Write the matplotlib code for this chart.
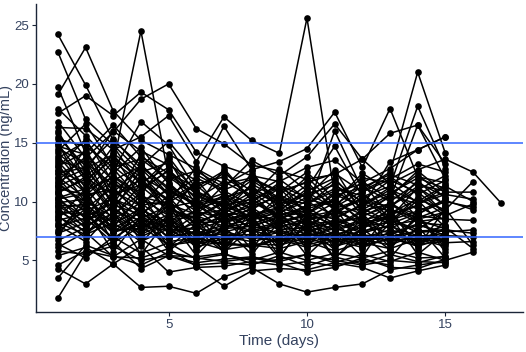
import matplotlib
matplotlib.use("Agg")
import matplotlib.pyplot as plt

# concentration (ng/mL) per subject, one value per day starting at day 1
conc = [
    [24.2, 19.9, 15.2, 13.1, 11.0, 9.8, 10.4, 8.9, 9.5, 8.7, 9.2, 8.1, 8.8],
    [22.7, 17.0, 14.8, 12.5, 13.3, 10.9, 9.7, 10.2, 8.8, 9.6, 10.1, 8.4, 9.0, 10.2, 9.3, 11.7],
    [19.7, 14.1, 16.5, 13.8, 12.4, 11.2, 12.6, 10.1, 11.4, 10.3, 11.8, 9.9, 10.7, 12.0, 11.1],
    [19.1, 23.1, 17.7, 15.2, 14.0, 12.8, 11.5, 12.0, 10.9, 11.6, 12.4, 10.8, 11.9, 13.2, 12.5],
    [17.9, 15.6, 13.2, 24.5, 12.1, 10.4, 9.8, 11.3, 9.6, 10.8, 9.4, 10.2],
    [17.5, 19.0, 17.3, 19.3, 17.8, 14.2, 13.0, 12.2, 11.7, 12.9, 13.5, 11.6, 12.8, 14.4, 15.5],
    [16.8, 13.7, 15.9, 18.7, 20.0, 16.2, 14.9, 13.1, 12.6, 11.9, 12.3, 13.6, 11.5, 12.7, 13.6, 12.5, 9.9],
    [16.3, 16.2, 14.4, 15.5, 17.3, 13.4, 17.2, 15.2, 14.1, 25.6, 10.5, 11.2, 12.3, 11.4, 10.9],
    [15.8, 12.6, 16.0, 14.3, 13.1, 11.8, 16.4, 12.7, 13.4, 14.5, 17.6, 12.9, 17.9, 12.1, 11.6],
    [15.3, 14.7, 12.9, 13.6, 11.9, 12.6, 11.2, 13.5, 12.2, 13.8, 16.6, 13.6, 15.8, 16.5, 13.2],
    [14.9, 11.8, 13.6, 12.1, 10.8, 9.9, 10.7, 9.4, 10.6, 9.3, 16.0, 11.0, 12.5, 21.0, 14.1],
    [14.5, 13.3, 11.4, 10.9, 12.7, 10.6, 9.5, 10.8, 9.2, 11.1, 14.7, 10.4, 11.3, 18.1, 12.8],
    [14.1, 12.2, 13.9, 11.7, 10.2, 11.5, 12.1, 10.5, 11.9, 10.2, 9.6, 11.7, 10.2, 16.5, 11.9],
    [13.7, 15.1, 12.4, 14.6, 11.5, 9.4, 10.1, 11.8, 10.3, 9.8, 10.9, 9.5, 13.4, 14.4, 15.5],
    [13.4, 10.9, 12.1, 10.4, 9.8, 8.9, 9.3, 10.0, 8.7, 9.1, 8.5, 9.8, 9.2, 8.7],
    [13.0, 14.2, 10.8, 12.9, 11.2, 10.1, 8.8, 9.6, 10.4, 8.6, 9.9, 8.9, 10.5, 9.8, 10.6, 10.2],
    [12.7, 11.5, 14.7, 11.3, 9.4, 8.6, 9.9, 8.4, 9.1, 10.0, 8.8, 10.7, 8.6, 11.2, 9.7],
    [12.4, 12.9, 9.8, 13.2, 10.6, 9.2, 8.5, 9.0, 8.3, 8.9, 10.3, 8.2, 9.7, 8.9, 10.2],
    [12.1, 10.3, 11.7, 9.6, 12.2, 10.8, 9.6, 8.7, 9.9, 8.4, 9.0, 9.4, 8.3, 10.4, 8.8, 9.8],
    [11.8, 13.8, 10.5, 11.9, 9.1, 8.3, 9.0, 10.6, 8.5, 9.5, 8.1, 8.7, 9.9, 8.5, 9.1],
    [11.6, 9.7, 12.8, 10.1, 10.9, 9.7, 8.2, 8.8, 9.4, 7.9, 9.3, 8.0, 8.9, 9.6, 8.4],
    [11.3, 12.4, 9.3, 12.7, 8.7, 9.0, 10.6, 8.1, 8.9, 9.2, 7.8, 9.1, 8.1, 9.0, 10.0, 9.5],
    [11.1, 10.6, 11.0, 9.0, 10.4, 7.9, 8.7, 9.3, 7.8, 8.6, 8.7, 7.6, 9.4, 8.2, 8.0],
    [10.8, 11.9, 8.9, 10.7, 8.4, 8.8, 7.9, 8.5, 9.1, 8.1, 8.3, 8.6, 7.7, 8.8, 8.5, 8.4],
    [10.6, 9.2, 10.3, 8.6, 9.6, 8.1, 9.2, 7.7, 8.2, 8.8, 7.5, 8.3, 8.5, 7.6, 9.2],
    [10.3, 11.1, 8.5, 9.9, 8.0, 7.6, 8.4, 8.9, 7.6, 7.8, 8.2, 7.3, 8.0, 8.4, 7.7],
    [10.1, 8.7, 9.9, 8.2, 9.3, 8.5, 7.4, 8.0, 8.6, 7.5, 7.9],
    [9.9, 10.2, 8.1, 9.4, 7.7, 7.3, 8.0, 7.4, 7.9, 8.3, 7.2, 7.8, 8.7, 7.3, 7.9],
    [9.6, 8.3, 9.5, 7.8, 8.9, 7.0, 7.7, 7.9, 7.3, 7.1, 7.7, 7.1, 7.2, 8.0, 7.4, 7.6],
    [9.4, 9.8, 7.7, 9.1, 7.4, 7.8, 7.1, 7.2, 7.0, 7.6, 6.9, 7.5, 7.9, 7.1, 7.0],
    [9.2, 7.9, 9.0, 7.4, 8.5, 6.8, 7.3, 6.9, 7.6, 6.8, 7.4, 6.8, 7.0, 7.5, 7.6, 7.3],
    [8.9, 9.4, 7.3, 8.7, 7.0, 7.4, 6.7, 7.0, 6.6, 7.3, 6.6, 7.2, 6.7, 6.9, 6.8],
    [8.7, 7.5, 8.6, 7.0, 8.1, 6.5, 7.0, 6.6, 7.1, 6.5, 7.1, 6.4, 7.4, 6.6, 7.2],
    [8.4, 9.0, 6.9, 8.3, 6.6, 6.9, 6.3, 6.4, 6.3, 6.9, 6.2, 6.8, 6.3, 7.2, 6.5, 6.6],
    [8.2, 7.2, 8.2, 6.6, 7.7, 6.2, 6.6, 6.1, 6.8, 6.1, 6.7, 6.1, 6.9, 6.2, 6.9],
    [7.9, 8.6, 6.5, 7.9, 6.3, 6.6, 5.9, 6.3, 6.0, 6.6, 5.8, 6.5, 6.0, 6.8, 6.2],
    [7.6, 9.8, 7.8, 10.6, 7.3, 8.9, 6.2, 8.4, 6.4, 8.7, 6.3, 9.0, 6.5, 8.6, 6.4],
    [7.3, 8.2, 10.4, 7.5, 9.7, 6.2, 8.8, 5.9, 9.1, 6.2, 8.3, 6.1, 9.2, 6.3, 7.8, 6.0],
    [7.0, 10.5, 7.4, 9.2, 6.9, 8.5, 5.8, 9.4, 6.1, 7.9, 5.9, 8.6, 6.1, 8.9, 6.0],
    [6.7, 7.8, 9.6, 7.1, 10.3, 5.9, 7.7, 8.9, 5.3, 8.2, 5.1, 7.8, 9.4, 6.0, 8.4],
    [6.4, 5.2, 7.0, 5.6, 6.5, 5.1, 5.5, 5.0, 5.7, 5.0, 5.6, 5.2, 5.8, 5.2, 5.3],
    [6.1, 7.4, 5.3, 6.8, 5.4, 4.8, 5.1, 5.3, 4.9, 5.5, 4.8, 5.5, 4.9, 5.7, 5.0, 5.7],
    [5.8, 5.5, 6.6, 4.3, 5.4, 4.6, 4.8, 4.6, 5.4, 4.5, 5.3, 4.7, 5.5, 4.9, 4.8],
    [5.4, 6.1, 4.7, 6.2, 4.0, 4.4, 4.5, 4.9, 4.6, 4.9, 4.5, 5.0, 4.6],
    [4.6, 5.8, 5.3, 5.2, 6.0, 4.5, 2.8, 4.1, 4.3, 4.2, 4.8, 4.4, 3.5, 4.1, 4.6],
    [4.3, 3.0, 4.7, 2.7, 2.8, 2.2, 3.6, 4.4, 3.0, 2.3, 2.7, 3.0, 4.2, 4.6, 4.9],
    [3.5, 6.3, 5.4, 4.6, 5.7, 5.2, 4.9, 5.2, 4.8, 4.0, 4.4, 5.2, 4.4, 4.3, 5.1],
    [1.8, 5.6, 6.2, 5.0, 5.4, 5.3, 5.6, 4.7, 5.1, 5.5, 5.0, 4.6, 5.0, 4.8, 5.4],
    [16.0, 12.0, 10.6, 11.4, 13.6, 9.6, 10.3, 11.1, 10.0, 12.1, 9.7, 11.3, 10.0, 11.6, 10.4],
    [15.5, 13.0, 15.3, 12.8, 10.5, 12.0, 10.9, 9.7, 11.1, 9.0, 10.6, 9.6, 11.0, 10.0, 11.4],
    [15.0, 10.5, 12.6, 16.8, 14.8, 11.0, 12.4, 10.9, 9.8, 10.6, 11.4, 10.0, 9.6, 11.0, 12.2],
    [14.7, 14.0, 11.8, 13.0, 15.1, 12.3, 11.0, 11.9, 10.8, 12.5, 10.2, 12.0, 11.6, 9.9, 10.8, 10.8],
    [14.3, 16.6, 13.0, 11.1, 12.6, 10.2, 11.7, 10.4, 12.8, 10.9, 12.0, 9.3, 10.6, 12.3, 10.3],
    [13.9, 11.2, 14.1, 12.3, 9.9, 11.4, 9.4, 12.4, 9.7, 11.4, 9.5, 10.9, 12.1, 10.6, 11.8],
    [13.5, 12.7, 10.0, 14.0, 11.6, 9.5, 12.8, 10.1, 11.2, 9.9, 11.1, 10.5, 9.4, 11.8, 9.6],
    [13.2, 9.9, 12.2, 10.6, 13.8, 10.7, 9.1, 11.5, 10.2, 9.4, 10.0, 12.4, 10.9, 9.3],
    [12.9, 15.3, 11.6, 9.7, 10.0, 12.9, 10.5, 9.3, 10.7, 11.7, 9.2, 10.1, 11.8, 10.8, 9.0],
    [12.6, 10.8, 13.4, 11.6, 12.9, 9.1, 11.4, 12.7, 9.0, 10.4, 12.7, 9.0, 10.4, 12.6, 10.7],
    [12.3, 13.5, 9.6, 12.0, 9.5, 10.0, 8.6, 9.9, 11.6, 8.9, 10.8, 11.5, 8.9, 9.7, 11.3, 10.0],
    [12.0, 9.4, 11.2, 8.8, 11.3, 8.7, 10.0, 8.6, 9.3, 10.7, 8.6, 9.7, 11.2, 8.6, 9.5],
    [11.7, 12.8, 14.0, 10.3, 8.8, 11.9, 9.0, 10.3, 8.4, 9.7, 11.6, 8.8, 9.6, 11.3, 8.9],
    [11.4, 10.0, 8.7, 11.5, 10.1, 8.0, 9.4, 8.3, 10.5, 8.0, 9.1, 10.3, 8.4, 9.2, 10.1, 9.3],
    [11.2, 14.5, 10.2, 9.3, 8.2, 9.9, 8.1, 9.5, 8.0, 9.0, 8.0, 9.2, 9.8, 8.3, 8.6],
    [10.9, 8.5, 11.9, 10.0, 9.7, 7.7, 8.9, 7.8, 8.8, 7.7, 9.5, 7.9, 8.2, 10.1, 7.8],
    [10.7, 12.1, 9.1, 8.4, 7.9, 9.3, 7.6, 9.1, 7.5, 8.4, 7.6, 8.5],
    [10.4, 8.0, 10.9, 9.6, 7.3, 8.2, 8.3, 7.5, 8.1, 7.2, 8.5, 7.4, 8.4, 7.4, 7.5],
    [10.2, 10.7, 7.6, 7.7, 8.6, 7.1, 7.8, 8.2, 7.2, 8.0, 7.0, 8.1, 7.3, 8.1, 7.1, 7.0],
    [10.0, 7.7, 9.7, 8.9, 6.9, 7.5, 6.9, 7.6, 6.8, 7.0, 7.8, 6.9, 7.6, 7.0, 7.3],
    [9.7, 9.6, 7.4, 8.0, 7.5, 6.7, 7.5, 6.8, 7.4, 6.7, 7.3, 6.6, 7.1, 6.7, 6.7],
    [9.5, 7.3, 8.8, 7.2, 8.3, 6.4, 6.8, 7.1, 6.5, 7.4, 6.5, 7.0, 6.6, 7.6],
    [9.1, 8.9, 6.8, 8.5, 6.2, 6.9, 6.4, 6.2, 6.9, 6.3, 6.9, 6.3, 6.8, 6.4, 6.6],
    [8.8, 6.9, 10.7, 6.5, 8.9, 6.0, 9.3, 6.6, 8.6, 6.0, 9.6, 6.0, 8.1, 6.1, 9.4, 6.3],
    [8.5, 11.1, 6.3, 9.8, 6.1, 8.1, 5.8, 8.7, 5.9, 9.2, 6.0, 7.7, 5.9, 8.9, 5.7],
    [8.0, 6.6, 9.2, 5.5, 8.6, 5.4, 7.9, 5.5, 8.3, 5.4, 7.6, 5.3, 8.8, 5.5, 7.4],
    [7.4, 9.4, 5.7, 8.8, 5.8, 7.6, 5.7, 7.9, 5.2, 8.5, 5.2, 7.2, 5.2, 7.9, 5.2],
]

x_ticks = [5, 10, 15]
y_ticks = [5, 10, 15, 20, 25]
ref_levels = [7, 15]

text_col = "#34425f"
axis_col = "#1b2538"

plt.rcParams["font.family"] = ["Liberation Sans", "DejaVu Sans"]

fig = plt.figure(figsize=(5.26, 3.52), dpi=100)
ax = fig.add_axes([0.068, 0.1136, 0.926, 0.875])

for vals in conc:
    d = list(range(1, len(vals) + 1))
    ax.plot(d, vals, color="black", lw=1.1, zorder=2)
    ax.plot(d, vals, "o", color="black", ms=4.8, mew=0, zorder=3)

for lvl in ref_levels:
    ax.axhline(lvl, color="#3366ff", lw=1.1, zorder=4)

ax.set_xlim(0.2, 17.8)
ax.set_ylim(0.61, 26.79)
ax.set_xticks(x_ticks)
ax.set_yticks(y_ticks)
ax.set_xlabel("Time (days)", fontsize=11, color=text_col, labelpad=2)
ax.set_ylabel("Concentration (ng/mL)", fontsize=10.5, color=text_col, labelpad=1)
ax.tick_params(colors=axis_col, labelcolor=text_col, labelsize=9.5, length=3, width=0.8, pad=2)
for s in ["top", "right"]:
    ax.spines[s].set_visible(False)
for s in ["left", "bottom"]:
    ax.spines[s].set_color(axis_col)
    ax.spines[s].set_linewidth(1.0)

fig.savefig("out.png", dpi=100)
